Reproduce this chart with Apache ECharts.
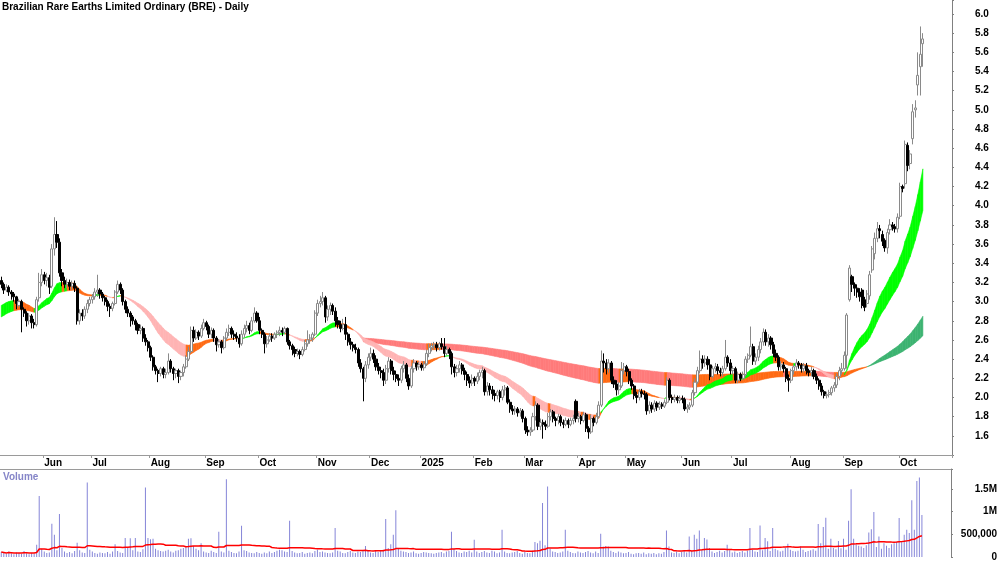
<!DOCTYPE html>
<html>
<head>
    <meta charset="utf-8">
    <title>Brazilian Rare Earths Limited Ordinary (BRE) - Daily</title>
    <script type="text/javascript" src="https://cdn.jsdelivr.net/npm/echarts@6/dist/echarts.min.js"></script>
    <style>
        html, body { margin: 0; padding: 0; background: #fff; }
        #chart { width: 1000px; height: 562px; }
    </style>
</head>
<body>
<div id="chart"></div>

<script type="text/javascript">
    // trading calendar (ASX), first bar and market holidays
    var firstDay = '2024-05-09';
    var holidays = ['2024-06-10', '2024-12-25', '2024-12-26', '2025-01-01', '2025-01-27',
        '2025-04-18', '2025-04-21', '2025-04-25', '2025-06-09'];
    var futureDays = 11;   // empty space on the right of the last bar
    var monthNames = ['Jan', 'Feb', 'Mar', 'Apr', 'May', 'Jun', 'Jul', 'Aug', 'Sep', 'Oct', 'Nov', 'Dec'];

    // daily prices (10 bars a row)
    var opens = [
        3.22, 3.18, 3.12, 3.15, 3.10, 3.08, 3.05, 2.96, 3.00, 2.92,
        2.88, 2.80, 2.85, 2.78, 2.76, 3.04, 3.20, 3.28, 3.22, 3.25,
        3.16, 3.55, 3.70, 3.62, 3.30, 3.22, 3.18, 3.20, 3.16, 3.19,
        3.14, 2.80, 2.88, 2.85, 2.92, 2.98, 3.02, 3.05, 3.10, 3.12,
        3.08, 3.04, 3.00, 2.95, 2.93, 2.98, 3.10, 3.18, 3.12, 3.00,
        2.92, 2.88, 2.84, 2.80, 2.76, 2.70, 2.72, 2.62, 2.58, 2.52,
        2.42, 2.32, 2.28, 2.25, 2.30, 2.24, 2.26, 2.38, 2.30, 2.25,
        2.28, 2.22, 2.26, 2.32, 2.40, 2.48, 2.70, 2.62, 2.68, 2.64,
        2.72, 2.78, 2.74, 2.66, 2.70, 2.62, 2.55, 2.58, 2.52, 2.62,
        2.68, 2.72, 2.66, 2.64, 2.62, 2.56, 2.66, 2.72, 2.75, 2.70,
        2.80, 2.88, 2.80, 2.70, 2.66, 2.56, 2.60, 2.64, 2.62, 2.66,
        2.68, 2.70, 2.68, 2.72, 2.58, 2.54, 2.50, 2.46, 2.48, 2.45,
        2.50, 2.56, 2.60, 2.62, 2.66, 2.88, 2.98, 3.00, 3.04, 2.84,
        2.92, 2.96, 2.90, 2.80, 2.76, 2.72, 2.76, 2.66, 2.58, 2.55,
        2.52, 2.50, 2.36, 2.30, 2.20, 2.34, 2.42, 2.46, 2.40, 2.32,
        2.28, 2.26, 2.18, 2.30, 2.38, 2.28, 2.24, 2.20, 2.18, 2.30,
        2.34, 2.20, 2.12, 2.30, 2.36, 2.32, 2.34, 2.31, 2.35, 2.46,
        2.52, 2.54, 2.55, 2.52, 2.56, 2.53, 2.46, 2.50, 2.46, 2.32,
        2.26, 2.30, 2.34, 2.28, 2.24, 2.18, 2.15, 2.20, 2.17, 2.22,
        2.26, 2.28, 2.06, 2.12, 2.08, 2.04, 2.02, 2.06, 2.00, 2.08,
        2.10, 1.95, 1.88, 1.86, 1.88, 1.84, 1.86, 1.78, 1.66, 1.64,
        1.66, 1.80, 1.92, 1.70, 1.74, 1.72, 1.70, 1.80, 1.85, 1.78,
        1.76, 1.80, 1.74, 1.72, 1.76, 1.72, 1.76, 1.96, 1.78, 1.80,
        1.76, 1.82, 1.68, 1.64, 1.78, 1.74, 1.80, 1.92, 2.38, 2.36,
        2.30, 2.36, 2.18, 2.14, 2.08, 2.12, 2.28, 2.32, 2.27, 2.18,
        2.12, 2.02, 2.00, 2.06, 2.04, 2.03, 1.86, 1.92, 1.88, 1.94,
        1.90, 1.93, 1.91, 1.95, 2.18, 2.00, 1.98, 2.00, 1.97, 1.99,
        1.98, 1.88, 1.90, 1.92, 2.05, 2.16, 2.28, 2.40, 2.36, 2.40,
        2.34, 2.22, 2.30, 2.32, 2.28, 2.26, 2.30, 2.42, 2.36, 2.28,
        2.30, 2.18, 2.24, 2.20, 2.24, 2.40, 2.44, 2.53, 2.38, 2.42,
        2.50, 2.58, 2.68, 2.58, 2.62, 2.55, 2.46, 2.42, 2.32, 2.34,
        2.30, 2.20, 2.18, 2.28, 2.32, 2.36, 2.34, 2.30, 2.33, 2.28,
        2.26, 2.28, 2.22, 2.18, 2.12, 2.06, 2.02, 2.03, 2.05, 2.10,
        2.13, 2.22, 2.28, 2.30, 2.44, 3.02, 3.26, 3.18, 3.14, 3.10,
        3.12, 3.02, 2.98, 3.06, 3.33, 3.50, 3.66, 3.76, 3.70, 3.64,
        3.56, 3.75, 3.80, 3.78, 3.76, 3.89, 4.20, 4.23, 4.63, 4.44,
        4.70, 5.00, 5.26, 5.45, 5.69
    ];
    var closes = [
        3.18, 3.12, 3.15, 3.10, 3.08, 3.05, 2.98, 3.00, 2.92, 2.88,
        2.80, 2.85, 2.78, 2.76, 3.02, 3.20, 3.28, 3.22, 3.25, 3.15,
        3.55, 3.70, 3.62, 3.30, 3.22, 3.18, 3.20, 3.16, 3.19, 3.14,
        2.80, 2.88, 2.85, 2.92, 2.98, 3.02, 3.05, 3.10, 3.12, 3.08,
        3.04, 3.00, 2.95, 2.93, 2.98, 3.10, 3.18, 3.12, 3.00, 2.92,
        2.88, 2.84, 2.80, 2.76, 2.70, 2.72, 2.62, 2.58, 2.52, 2.42,
        2.32, 2.28, 2.25, 2.30, 2.24, 2.26, 2.38, 2.30, 2.25, 2.28,
        2.22, 2.26, 2.32, 2.40, 2.48, 2.70, 2.62, 2.68, 2.64, 2.72,
        2.78, 2.74, 2.66, 2.70, 2.62, 2.55, 2.58, 2.52, 2.62, 2.68,
        2.72, 2.66, 2.64, 2.62, 2.56, 2.66, 2.72, 2.75, 2.70, 2.80,
        2.88, 2.80, 2.70, 2.66, 2.56, 2.60, 2.64, 2.62, 2.66, 2.68,
        2.70, 2.68, 2.72, 2.58, 2.54, 2.50, 2.46, 2.48, 2.45, 2.50,
        2.56, 2.60, 2.62, 2.66, 2.88, 2.98, 3.00, 3.04, 2.84, 2.92,
        2.96, 2.90, 2.80, 2.76, 2.72, 2.76, 2.66, 2.58, 2.55, 2.52,
        2.50, 2.36, 2.30, 2.20, 2.34, 2.42, 2.46, 2.40, 2.32, 2.28,
        2.26, 2.18, 2.30, 2.38, 2.28, 2.24, 2.20, 2.18, 2.30, 2.34,
        2.20, 2.12, 2.30, 2.36, 2.32, 2.34, 2.31, 2.35, 2.46, 2.52,
        2.54, 2.55, 2.52, 2.56, 2.53, 2.46, 2.50, 2.46, 2.32, 2.26,
        2.30, 2.34, 2.28, 2.24, 2.18, 2.15, 2.20, 2.17, 2.22, 2.26,
        2.28, 2.06, 2.12, 2.08, 2.04, 2.02, 2.06, 2.00, 2.08, 2.10,
        1.95, 1.88, 1.86, 1.88, 1.84, 1.86, 1.78, 1.66, 1.64, 1.66,
        1.80, 1.92, 1.70, 1.74, 1.72, 1.70, 1.80, 1.85, 1.78, 1.76,
        1.80, 1.74, 1.72, 1.76, 1.72, 1.76, 1.78, 1.78, 1.80, 1.76,
        1.82, 1.68, 1.64, 1.78, 1.74, 1.80, 1.92, 2.38, 2.36, 2.30,
        2.36, 2.18, 2.14, 2.08, 2.12, 2.28, 2.32, 2.27, 2.18, 2.12,
        2.02, 2.00, 2.06, 2.04, 2.03, 1.86, 1.92, 1.88, 1.94, 1.90,
        1.93, 1.91, 1.95, 2.18, 2.00, 1.98, 2.00, 1.97, 1.99, 1.98,
        1.88, 1.90, 1.92, 2.05, 2.16, 2.28, 2.40, 2.36, 2.40, 2.34,
        2.22, 2.30, 2.32, 2.28, 2.26, 2.30, 2.42, 2.36, 2.28, 2.30,
        2.18, 2.24, 2.20, 2.24, 2.40, 2.44, 2.53, 2.38, 2.42, 2.50,
        2.58, 2.68, 2.58, 2.62, 2.55, 2.46, 2.42, 2.32, 2.34, 2.30,
        2.20, 2.18, 2.28, 2.32, 2.36, 2.34, 2.30, 2.33, 2.28, 2.26,
        2.28, 2.22, 2.18, 2.12, 2.06, 2.02, 2.03, 2.05, 2.10, 2.13,
        2.22, 2.28, 2.30, 2.44, 2.86, 3.35, 3.18, 3.14, 3.10, 3.05,
        2.96, 2.94, 3.08, 3.28, 3.55, 3.66, 3.76, 3.74, 3.63, 3.56,
        3.72, 3.80, 3.78, 3.76, 3.88, 4.20, 4.18, 4.64, 4.42, 4.54,
        4.98, 5.02, 5.36, 5.58, 5.74
    ];
    var highs = [
        3.26, 3.20, 3.18, 3.17, 3.12, 3.10, 3.06, 3.03, 3.02, 2.94,
        2.90, 2.88, 2.87, 2.82, 3.05, 3.30, 3.34, 3.31, 3.30, 3.28,
        3.60, 3.88, 3.84, 3.66, 3.34, 3.26, 3.24, 3.23, 3.22, 3.22,
        3.16, 2.92, 2.92, 2.95, 3.02, 3.05, 3.08, 3.14, 3.28, 3.14,
        3.10, 3.06, 3.02, 2.98, 3.00, 3.12, 3.22, 3.20, 3.14, 3.02,
        2.95, 2.90, 2.86, 2.82, 2.78, 2.76, 2.74, 2.66, 2.60, 2.54,
        2.44, 2.34, 2.30, 2.32, 2.32, 2.30, 2.46, 2.40, 2.32, 2.30,
        2.30, 2.28, 2.35, 2.44, 2.53, 2.74, 2.74, 2.71, 2.70, 2.76,
        2.82, 2.80, 2.76, 2.73, 2.72, 2.64, 2.61, 2.60, 2.64, 2.72,
        2.76, 2.74, 2.70, 2.68, 2.66, 2.70, 2.76, 2.80, 2.78, 2.84,
        2.94, 2.90, 2.84, 2.72, 2.68, 2.64, 2.67, 2.67, 2.68, 2.70,
        2.74, 2.73, 2.74, 2.73, 2.60, 2.56, 2.53, 2.51, 2.50, 2.53,
        2.60, 2.70, 2.66, 2.68, 2.91, 3.02, 3.06, 3.10, 3.06, 2.96,
        2.99, 2.98, 2.94, 2.84, 2.80, 2.82, 2.84, 2.68, 2.62, 2.58,
        2.56, 2.52, 2.40, 2.32, 2.38, 2.46, 2.52, 2.50, 2.44, 2.36,
        2.32, 2.30, 2.34, 2.42, 2.40, 2.32, 2.28, 2.24, 2.33, 2.38,
        2.36, 2.24, 2.33, 2.40, 2.38, 2.37, 2.36, 2.38, 2.50, 2.56,
        2.57, 2.58, 2.58, 2.58, 2.62, 2.62, 2.54, 2.52, 2.48, 2.35,
        2.34, 2.38, 2.36, 2.31, 2.27, 2.22, 2.24, 2.22, 2.26, 2.29,
        2.32, 2.30, 2.16, 2.15, 2.12, 2.08, 2.08, 2.08, 2.12, 2.13,
        2.12, 1.98, 1.92, 1.91, 1.90, 1.89, 1.88, 1.80, 1.70, 1.69,
        1.84, 1.96, 1.94, 1.78, 1.77, 1.76, 1.84, 1.88, 1.87, 1.80,
        1.83, 1.82, 1.77, 1.79, 1.78, 1.79, 1.82, 1.98, 1.84, 1.82,
        1.85, 1.84, 1.70, 1.82, 1.80, 1.84, 1.96, 2.49, 2.46, 2.40,
        2.40, 2.38, 2.22, 2.18, 2.16, 2.37, 2.36, 2.34, 2.30, 2.20,
        2.14, 2.06, 2.09, 2.09, 2.07, 2.05, 1.96, 1.95, 1.97, 1.96,
        1.96, 1.95, 1.98, 2.21, 2.20, 2.03, 2.03, 2.02, 2.02, 2.02,
        2.00, 1.93, 1.95, 2.08, 2.20, 2.32, 2.49, 2.44, 2.44, 2.43,
        2.40, 2.33, 2.36, 2.35, 2.31, 2.33, 2.60, 2.44, 2.40, 2.33,
        2.32, 2.27, 2.26, 2.27, 2.43, 2.46, 2.74, 2.56, 2.46, 2.54,
        2.62, 2.72, 2.71, 2.66, 2.64, 2.58, 2.50, 2.44, 2.38, 2.37,
        2.32, 2.24, 2.30, 2.34, 2.40, 2.38, 2.36, 2.36, 2.36, 2.30,
        2.32, 2.30, 2.25, 2.20, 2.15, 2.08, 2.06, 2.08, 2.12, 2.16,
        2.25, 2.32, 2.36, 2.48, 2.88, 3.38, 3.28, 3.20, 3.18, 3.14,
        3.14, 3.05, 3.12, 3.32, 3.58, 3.72, 3.83, 3.80, 3.74, 3.66,
        3.76, 3.86, 3.83, 3.81, 3.92, 4.24, 4.22, 4.68, 4.66, 4.58,
        5.06, 5.10, 5.60, 5.87, 5.80
    ];
    var lows = [
        3.14, 3.08, 3.10, 3.06, 3.02, 3.00, 2.92, 2.94, 2.68, 2.84,
        2.74, 2.76, 2.72, 2.72, 2.74, 3.00, 3.16, 3.18, 3.16, 3.08,
        3.14, 3.48, 3.56, 3.26, 3.16, 3.14, 3.14, 3.12, 3.12, 3.10,
        2.76, 2.76, 2.80, 2.82, 2.88, 2.95, 2.98, 3.02, 3.05, 3.03,
        3.00, 2.96, 2.90, 2.84, 2.90, 2.96, 3.08, 3.08, 2.96, 2.88,
        2.84, 2.74, 2.76, 2.70, 2.66, 2.66, 2.58, 2.54, 2.48, 2.38,
        2.28, 2.24, 2.16, 2.22, 2.20, 2.20, 2.24, 2.26, 2.18, 2.20,
        2.15, 2.18, 2.22, 2.30, 2.38, 2.46, 2.58, 2.60, 2.60, 2.62,
        2.70, 2.70, 2.62, 2.62, 2.58, 2.48, 2.52, 2.46, 2.50, 2.60,
        2.64, 2.62, 2.60, 2.58, 2.52, 2.54, 2.62, 2.68, 2.66, 2.68,
        2.78, 2.78, 2.66, 2.62, 2.46, 2.52, 2.58, 2.58, 2.60, 2.62,
        2.64, 2.64, 2.66, 2.55, 2.50, 2.44, 2.42, 2.43, 2.40, 2.43,
        2.48, 2.53, 2.56, 2.58, 2.64, 2.85, 2.94, 2.96, 2.78, 2.80,
        2.86, 2.86, 2.74, 2.72, 2.68, 2.70, 2.60, 2.54, 2.50, 2.48,
        2.46, 2.32, 2.26, 1.96, 2.16, 2.30, 2.38, 2.36, 2.28, 2.24,
        2.20, 2.12, 2.14, 2.26, 2.24, 2.18, 2.16, 2.12, 2.15, 2.26,
        2.16, 2.08, 2.10, 2.26, 2.28, 2.29, 2.28, 2.28, 2.33, 2.42,
        2.48, 2.50, 2.48, 2.49, 2.50, 2.42, 2.44, 2.40, 2.24, 2.21,
        2.22, 2.26, 2.24, 2.18, 2.12, 2.10, 2.12, 2.12, 2.14, 2.18,
        2.20, 2.02, 2.02, 2.02, 1.98, 1.96, 1.98, 1.95, 1.97, 2.02,
        1.93, 1.84, 1.82, 1.82, 1.80, 1.80, 1.74, 1.62, 1.60, 1.60,
        1.64, 1.76, 1.66, 1.66, 1.57, 1.66, 1.68, 1.76, 1.74, 1.70,
        1.72, 1.70, 1.68, 1.70, 1.68, 1.70, 1.72, 1.74, 1.74, 1.72,
        1.74, 1.64, 1.57, 1.62, 1.70, 1.72, 1.78, 1.90, 2.26, 2.24,
        2.26, 2.14, 2.10, 2.02, 2.03, 2.10, 2.24, 2.22, 2.14, 2.08,
        1.98, 1.94, 1.97, 2.00, 1.98, 1.82, 1.83, 1.84, 1.85, 1.86,
        1.87, 1.88, 1.89, 1.93, 1.97, 1.94, 1.95, 1.94, 1.94, 1.94,
        1.86, 1.84, 1.87, 1.90, 2.02, 2.14, 2.25, 2.30, 2.32, 2.29,
        2.18, 2.20, 2.26, 2.24, 2.22, 2.22, 2.28, 2.32, 2.24, 2.24,
        2.15, 2.15, 2.17, 2.18, 2.22, 2.36, 2.42, 2.34, 2.34, 2.38,
        2.46, 2.54, 2.54, 2.53, 2.50, 2.42, 2.38, 2.28, 2.28, 2.26,
        2.16, 2.06, 2.15, 2.24, 2.28, 2.30, 2.26, 2.26, 2.24, 2.22,
        2.22, 2.19, 2.14, 2.08, 2.02, 1.99, 1.99, 2.00, 2.02, 2.06,
        2.10, 2.18, 2.24, 2.28, 2.30, 3.00, 3.10, 3.06, 3.04, 3.00,
        2.93, 2.90, 2.94, 3.02, 3.30, 3.44, 3.62, 3.66, 3.58, 3.52,
        3.50, 3.70, 3.74, 3.72, 3.72, 3.86, 4.14, 4.18, 4.36, 4.38,
        4.64, 4.92, 5.15, 5.15, 5.45
    ];

    // daily volume, thousand shares
    var volumes = [
        110, 90, 70, 120, 80, 60, 100, 90, 70, 130,
        80, 60, 90, 70, 270, 1340, 180, 120, 90, 100,
        730, 490, 150, 945, 200, 120, 90, 110, 80, 130,
        315, 150, 100, 90, 1640, 160, 120, 90, 70, 100,
        90, 80, 110, 70, 120, 280, 130, 100, 90, 420,
        200, 410, 150, 420, 120, 110, 170, 1530, 420, 390,
        400, 180, 150, 130, 120, 140, 160, 120, 100, 140,
        150, 180, 200, 230, 400, 410, 240, 180, 150, 300,
        120, 100, 90, 140, 110, 90, 555, 120, 100, 1710,
        140, 110, 90, 80, 120, 685, 150, 130, 100, 90,
        80, 110, 90, 70, 100, 80, 120, 90, 110, 140,
        160, 150, 120, 110, 795, 130, 100, 80, 90, 110,
        70, 90, 100, 80, 130, 160, 110, 120, 100, 90,
        80, 100, 640, 140, 120, 90, 80, 110, 130, 100,
        90, 120, 110, 150, 240, 130, 100, 90, 140, 110,
        130, 160, 835, 200, 280, 490, 1030, 180, 140, 120,
        110, 90, 100, 120, 80, 70, 90, 110, 100, 90,
        80, 70, 90, 100, 110, 80, 120, 140, 555, 180,
        130, 100, 90, 120, 110, 140, 100, 380, 120, 90,
        110, 130, 100, 90, 140, 120, 80, 100, 600, 120,
        90, 80, 100, 110, 130, 90, 70, 120, 90, 80,
        140, 330, 300, 360, 1190, 260, 1550, 180, 120, 110,
        90, 100, 120, 600, 140, 110, 90, 80, 120, 100,
        90, 110, 130, 100, 80, 120, 90, 510, 230, 240,
        230, 140, 110, 90, 120, 100, 80, 90, 110, 70,
        60, 80, 90, 70, 100, 60, 80, 70, 90, 60,
        80, 70, 110, 580, 230, 100, 90, 120, 80, 110,
        130, 100, 450, 140, 490, 400, 580, 160, 420, 385,
        200, 120, 90, 110, 140, 100, 130, 270, 150, 100,
        120, 90, 110, 130, 100, 140, 640, 160, 120, 110,
        690, 150, 420, 345, 130, 640, 180, 150, 120, 140,
        200, 290, 160, 130, 120, 140, 230, 160, 110, 130,
        150, 170, 140, 725, 300, 660, 865, 180, 400, 200,
        170, 350, 190, 400, 160, 795, 1490, 400, 280, 250,
        230, 200, 260, 540, 610, 990, 220, 450, 180, 300,
        250, 200, 280, 300, 330, 860, 350, 490, 600, 530,
        1250, 600, 1670, 1750, 925
    ];

    // moving average ribbons: periods, and start values read where each ribbon begins
    var shortPeriods = [21, 34];
    var shortSeed = [2.96, 2.84];      // at the first bar
    var longPeriods = [140, 240];
    var longSeed = [2.58, 2.62];       // long ribbon shows from bar 143 (mid Dec)
    var longStart = 143;
    var volumeAvgPeriod = 50;

    var shortColors = ['#00ff00', '#ff6a13', '#ffb4b4'];  // up, mixed, down
    var longColors = ['#3cb371', '#ff6a13', '#ff7b7b'];

    var priceTicks = [1.6, 6.0];
    var volumeTicks = [0, 500, 1000, 1500];
    var volumeTickLabels = ['0', '500,000', '1M', '1.5M'];

    var FONT = '"Liberation Sans", Arial, sans-serif';

    function tradingDays(start, count) {
        var d = new Date(start + 'T00:00:00Z'), out = [];
        while (out.length < count) {
            var s = d.toISOString().slice(0, 10), wd = d.getUTCDay();
            if (wd !== 0 && wd !== 6 && holidays.indexOf(s) < 0) out.push(s);
            d.setUTCDate(d.getUTCDate() + 1);
        }
        return out;
    }

    function ema(values, period, seed, start) {
        var k = 2 / (period + 1), e = seed, out = [];
        for (var i = 0; i < values.length; i++) {
            if (i < start) { out.push(null); continue; }
            if (i > start) e = e + k * (values[i] - e);
            out.push(e);
        }
        return out;
    }

    function sma(values, period) {
        var out = [], sum = 0;
        for (var i = 0; i < values.length; i++) {
            sum += values[i];
            if (i >= period) sum -= values[i - period];
            out.push(sum / Math.min(i + 1, period));
        }
        return out;
    }

    // one polygon per bar-to-bar step
    // up: fast above slow and rising, down: fast below slow and falling, else mixed
    function bandSegments(fast, slow) {
        var segs = [];
        for (var i = 0; i + 1 < fast.length; i++) {
            if (fast[i] == null || fast[i + 1] == null) continue;
            var rising = fast[i + 1] >= fast[i], above = fast[i + 1] >= slow[i + 1];
            var dir = (rising && above) ? 0 : ((!rising && !above) ? 2 : 1);
            segs.push([i, fast[i], slow[i], fast[i + 1], slow[i + 1], dir]);
        }
        return segs;
    }

    function bandRenderer(colors) {
        return function (params, api) {
            var i = api.value(0);
            var pts = [
                api.coord([i, api.value(1)]),
                api.coord([i + 1, api.value(3)]),
                api.coord([i + 1, api.value(4)]),
                api.coord([i, api.value(2)])
            ];
            var c = colors[api.value(5)];
            return {
                type: 'polygon',
                shape: {points: pts},
                style: {fill: c, stroke: c, lineWidth: 0.6}
            };
        };
    }

    var dates = tradingDays(firstDay, closes.length + futureDays);
    var monthStart = dates.map(function (d, i) {
        return i > 0 && d.slice(5, 7) !== dates[i - 1].slice(5, 7);
    });
    function isMonthStart(idx) { return monthStart[idx]; }

    var candles = closes.map(function (c, i) { return [opens[i], c, lows[i], highs[i]]; });
    var shortBand = bandSegments(ema(closes, shortPeriods[0], shortSeed[0], 0),
        ema(closes, shortPeriods[1], shortSeed[1], 0));
    var longBand = bandSegments(ema(closes, longPeriods[0], longSeed[0], longStart),
        ema(closes, longPeriods[1], longSeed[1], longStart));
    var volumeAvg = sma(volumes, volumeAvgPeriod);

    var option = {
        animation: false,
        backgroundColor: '#ffffff',
        textStyle: {fontFamily: FONT},
        title: [{
            text: 'Brazilian Rare Earths Limited Ordinary (BRE) - Daily',
            left: 2, top: 2, padding: 0,
            textStyle: {fontSize: 10, fontWeight: 'bold', color: '#000', fontFamily: FONT}
        }, {
            text: 'Volume',
            left: 3, top: 472, padding: 0,
            textStyle: {fontSize: 10, fontWeight: 'bold', color: '#8585c8', fontFamily: FONT}
        }],
        grid: [
            {left: 0, right: 48, top: 0, height: 455},
            {left: 0, right: 48, top: 469, height: 89}
        ],
        xAxis: [{
            type: 'category', gridIndex: 0, data: dates, boundaryGap: true,
            axisLine: {onZero: false, lineStyle: {color: '#9a9a9a'}},
            axisTick: {show: true, interval: isMonthStart, length: 3, lineStyle: {color: '#9a9a9a'}},
            axisLabel: {
                interval: isMonthStart, align: 'left', margin: 3,
                fontSize: 10, fontWeight: 'bold', color: '#000', fontFamily: FONT,
                formatter: function (v) {
                    var m = +v.slice(5, 7);
                    return m === 1 ? v.slice(0, 4) : monthNames[m - 1];
                }
            },
            splitLine: {show: false}
        }, {
            type: 'category', gridIndex: 1, data: dates, boundaryGap: true, position: 'top',
            axisLine: {onZero: false, lineStyle: {color: '#9a9a9a'}},
            axisTick: {show: false}, axisLabel: {show: false}, splitLine: {show: false}
        }],
        yAxis: [{
            type: 'value', gridIndex: 0, position: 'right',
            min: 1.4, max: 6.146, interval: 0.2,
            axisLine: {show: true, lineStyle: {color: '#808080'}},
            axisTick: {show: true, length: 2, lineStyle: {color: '#808080'}},
            axisLabel: {
                margin: 23, align: 'left', fontSize: 10, fontWeight: 'bold', color: '#000', fontFamily: FONT,
                formatter: function (v) {
                    return (v >= priceTicks[0] - 0.01 && v <= priceTicks[1] + 0.01) ? v.toFixed(1) : '';
                }
            },
            splitLine: {show: false}
        }, {
            type: 'value', gridIndex: 1, position: 'right',
            min: 0, max: 1935, interval: 500,
            axisLine: {show: true, lineStyle: {color: '#808080'}},
            axisTick: {show: true, length: 2, lineStyle: {color: '#808080'}},
            axisLabel: {
                margin: 46, align: 'right', fontSize: 10, fontWeight: 'bold', color: '#000', fontFamily: FONT,
                formatter: function (v) {
                    var k = volumeTicks.indexOf(v);
                    return k < 0 ? '' : volumeTickLabels[k];
                }
            },
            splitLine: {show: false}
        }],
        series: [{
            name: 'long ribbon', type: 'custom', xAxisIndex: 0, yAxisIndex: 0, z: 1,
            renderItem: bandRenderer(longColors), data: longBand,
            encode: {x: 0, y: [1, 2]}, clip: true, silent: true
        }, {
            name: 'short ribbon', type: 'custom', xAxisIndex: 0, yAxisIndex: 0, z: 2,
            renderItem: bandRenderer(shortColors), data: shortBand,
            encode: {x: 0, y: [1, 2]}, clip: true, silent: true
        }, {
            name: 'BRE', type: 'candlestick', xAxisIndex: 0, yAxisIndex: 0, z: 3,
            data: candles, barWidth: 2.6,
            itemStyle: {
                color: '#ffffff', color0: '#000000',
                borderColor: '#8a8a8a', borderColor0: '#000000', borderWidth: 1
            }
        }, {
            name: 'Volume', type: 'bar', xAxisIndex: 1, yAxisIndex: 1,
            data: volumes, barWidth: 1,
            itemStyle: {color: '#8585d8'}
        }, {
            name: 'Volume MA', type: 'line', xAxisIndex: 1, yAxisIndex: 1,
            data: volumeAvg, showSymbol: false, z: 3,
            lineStyle: {color: '#ff0000', width: 1.5}
        }]
    };

    var myChart = echarts.init(document.getElementById('chart'));
    myChart.setOption(option);
</script>
</body>
</html>
